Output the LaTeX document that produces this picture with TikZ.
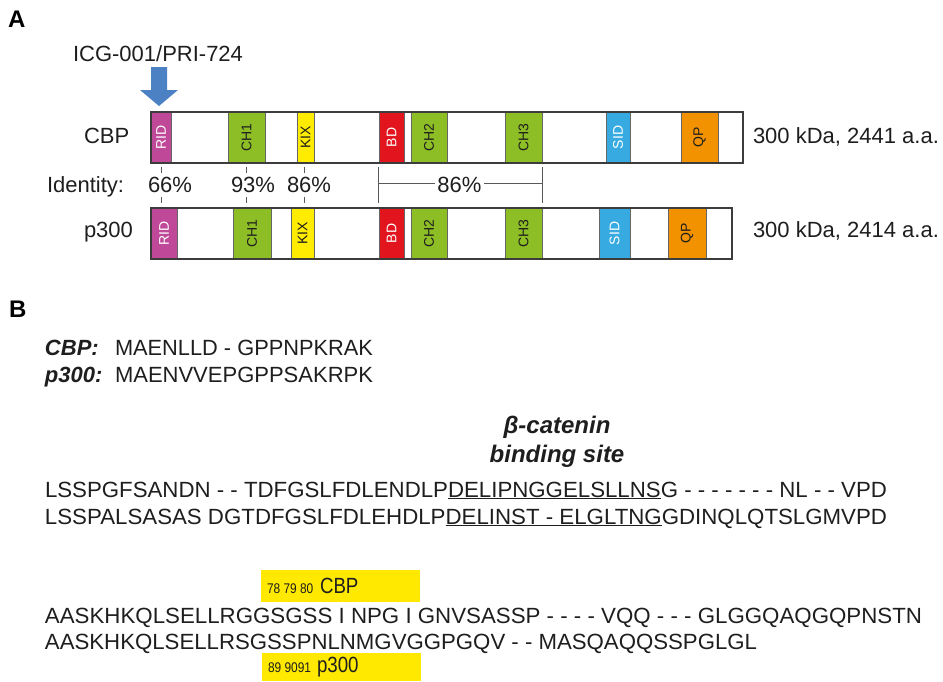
\documentclass[tikz,border=0pt]{standalone}
\usepackage{fontspec}
\setmainfont{Liberation Sans}
\usepackage{graphicx}
\newcommand\myfs[1]{\fontsize{#1}{#1}\selectfont}
\definecolor{ridc}{RGB}{192,72,152}
\definecolor{chgc}{RGB}{142,190,38}
\definecolor{kixc}{RGB}{255,236,0}
\definecolor{bdc}{RGB}{226,20,30}
\definecolor{sidc}{RGB}{55,170,225}
\definecolor{qpc}{RGB}{242,146,0}
\definecolor{arrowc}{RGB}{76,130,195}
\definecolor{ybox}{RGB}{255,233,0}
\definecolor{darktxt}{RGB}{30,30,30}
\definecolor{barline}{RGB}{60,60,60}
\tikzset{
  txt/.style={anchor=base west, inner sep=0, outer sep=0, text=darktxt, font=\myfs{22}},
  panel/.style={anchor=base west, inner sep=0, font=\myfs{24}\bfseries, text=black},
  dom/.style={draw=gray!80!black, line width=0.7pt, inner sep=0, outer sep=0, minimum height=51pt, font=\myfs{14}},
  barframe/.style={draw=barline, line width=1.6pt, inner sep=0, outer sep=0, minimum height=51pt},
  idline/.style={draw=gray!70!black, line width=0.8pt},
  yb/.style={fill=ybox, inner sep=0, outer sep=0},
}
\begin{document}
\begin{tikzpicture}[x=1pt,y=-1pt]
\useasboundingbox (0,0) rectangle (943,681);
% Panel A
\node[panel] (lblA) at (8,27) {A};
\node[txt] (icg) at (73,61) {ICG-001/PRI-724};
\fill[arrowc] (151,67) -- (167,67) -- (167,90) -- (178,90) -- (159,106) -- (140,90) -- (151,90) -- cycle;

\node[txt] (cbpname) at (84,143) {CBP};
\node[txt] (p300name) at (84,237) {p300};

% CBP domains
\foreach \nm/\xa/\xb/\col/\tc in {RID/151/171/ridc/white, CH1/228/265/chgc/darktxt, KIX/297/314/kixc/darktxt, BD/379/404/bdc/white, CH2/411/447/chgc/darktxt, CH3/505/542/chgc/darktxt, SID/606/630/sidc/white, QP/681/718/qpc/darktxt}{
  \pgfmathsetmacro\cx{(\xa+\xb)/2}
  \pgfmathsetmacro\dw{\xb-\xa}
  \node[dom, fill=\col, text=\tc, minimum width=\dw pt] (c\nm) at (\cx,137.5) {\rotatebox{90}{\nm}};
}
\node[barframe, minimum width=592pt] (cbpbar) at (447,137.5) {};
% p300 domains
\foreach \nm/\xa/\xb/\col/\tc in {RID/151/177/ridc/white, CH1/233/271/chgc/darktxt, KIX/291/314/kixc/darktxt, BD/379/404/bdc/white, CH2/411/447/chgc/darktxt, CH3/505/542/chgc/darktxt, SID/599/630/sidc/white, QP/668/706/qpc/darktxt}{
  \pgfmathsetmacro\cx{(\xa+\xb)/2}
  \pgfmathsetmacro\dw{\xb-\xa}
  \node[dom, fill=\col, text=\tc, minimum width=\dw pt] (p\nm) at (\cx,233.5) {\rotatebox{90}{\nm}};
}
\node[barframe, minimum width=581pt] (p300bar) at (441.5,233.5) {};

\node[txt] (cbpsize) at (753,143) {300 kDa, 2441 a.a.};
\node[txt] (p300size) at (753,237) {300 kDa, 2414 a.a.};

% Identity row
\node[txt] (ident) at (47,192) {Identity:};
\node[txt] (id66) at (148,192) {66\%};
\node[txt] (id93) at (231,192) {93\%};
\node[txt] (id86a) at (287,192) {86\%};
\node[txt, anchor=base, inner sep=2.5pt] (id86b) at (459.5,192) {86\%};
\foreach \k/\xx in {1/161,2/246,3/304}{
  \coordinate (ta\k) at (\xx,167);
  \coordinate (tb\k) at (\xx,173);
  \coordinate (tc\k) at (\xx,197);
  \coordinate (td\k) at (\xx,203);
  \draw[idline] (ta\k) -- (tb\k);
  \draw[idline] (tc\k) -- (td\k);
}
\coordinate (bl1) at (378,167);
\coordinate (bl2) at (378,203);
\coordinate (br1) at (542,167);
\coordinate (br2) at (542,203);
\coordinate (blm) at (378,183);
\coordinate (brm) at (542,183);
\draw[idline] (bl1) -- (bl2);
\draw[idline] (br1) -- (br2);
\draw[idline] (blm) -- (id86b.west |- blm);
\draw[idline] (id86b.east |- brm) -- (brm);

% Panel B
\node[panel] (lblB) at (9,317) {B};
\node[txt, font=\myfs{22}\bfseries\itshape] (cbplab) at (45,355) {CBP:};
\node[txt, font=\myfs{22}\bfseries\itshape] (p300lab) at (45,382) {p300:};
\node[txt] (seq0a) at (115,355) {\resizebox{258pt}{\height}{MAENLLD - GPPNPKRAK}};
\node[txt] (seq0b) at (115,382) {\resizebox{258pt}{\height}{MAENVVEPGPPSAKRPK}};

\node[txt, anchor=base, font=\myfs{24}\bfseries\itshape] (bcat1) at (557,433) {β-catenin};
\node[txt, anchor=base, font=\myfs{24}\bfseries\itshape] (bcat2) at (557,462) {binding site};

\node[txt] (seq1a) at (45,497) {\resizebox{842pt}{\height}{LSSPGFSANDN - - TDFGSLFDLENDLP\underline{DELIPNGGELSLLNS}G - - - - - - - NL - - VPD}};
\node[txt] (seq1b) at (45,524) {\resizebox{842pt}{\height}{LSSPALSASAS DGTDFGSLFDLEHDLP\underline{DELINST - ELGLTNG}GDINQLQTSLGMVPD}};

\node[yb, minimum width=159pt, minimum height=32pt, anchor=north west] (ybtop) at (261,570) {};
\node[txt, font=\myfs{14}] (num1) at (267,593) {\scalebox{0.85}[1]{78 79 80}};
\node[txt] (cbpy) at (320,593) {\scalebox{0.85}[1]{CBP}};

\node[txt] (seq2a) at (45,623) {\resizebox{877pt}{\height}{AASKHKQLSELLRGGSGSS I NPG I GNVSASSP - - - - VQQ - - - GLGGQAQGQPNSTN}};
\node[txt] (seq2b) at (45,649) {\resizebox{712pt}{\height}{AASKHKQLSELLRSGSSPNLNMGVGGPGQV - - MASQAQQSSPGLGL}};

\node[yb, minimum width=159pt, minimum height=28pt, anchor=north west] (ybbot) at (262,653) {};
\node[txt, font=\myfs{14}] (num2) at (268,672) {\scalebox{0.85}[1]{89 9091}};
\node[txt] (p300y) at (317,672) {\scalebox{0.85}[1]{p300}};
\end{tikzpicture}
\end{document}
